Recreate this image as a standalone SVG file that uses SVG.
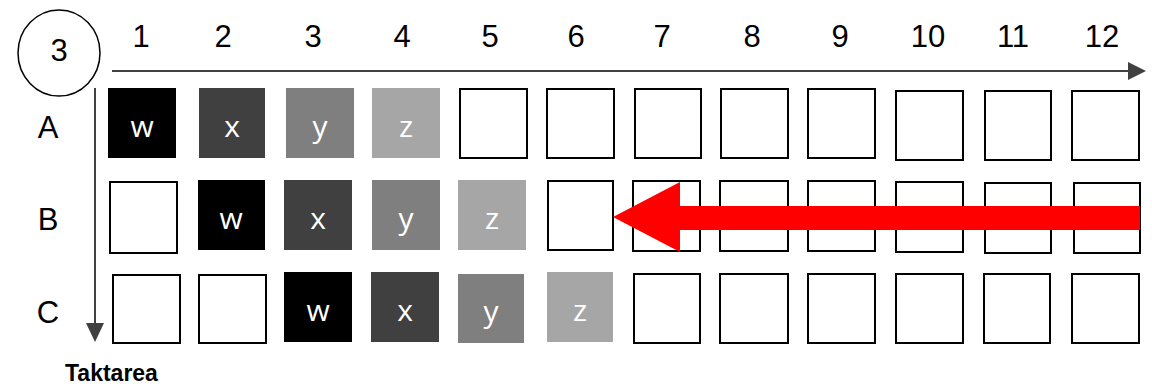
<svg xmlns="http://www.w3.org/2000/svg" width="1152" height="390" viewBox="0 0 1152 390">
<style>
.lbl{font-family:"Liberation Sans",Arial,sans-serif;font-size:31px;fill:#000;text-anchor:middle}
.cell{fill:#fff;stroke:#000;stroke-width:2}
.ct{font-family:"Open Sans","Liberation Sans",sans-serif;font-size:30px;fill:#fff;text-anchor:middle}
.w{fill:#000}.x{fill:#404040}.y{fill:#7f7f7f}.z{fill:#a6a6a6}
.axis{stroke:#404040;stroke-width:2;fill:none}
.head{fill:#404040}
.bold{font-family:"Liberation Sans",Arial,sans-serif;font-size:23px;font-weight:bold;fill:#000}
</style>

<g id="badge">
<ellipse cx="59" cy="53" rx="41" ry="43" fill="#fff" stroke="#000" stroke-width="1.5"/>
<text class="lbl" x="59" y="61">3</text>
</g>

<g id="columns">
<text class="lbl" x="141" y="47">1</text>
<text class="lbl" x="223" y="47">2</text>
<text class="lbl" x="313" y="47">3</text>
<text class="lbl" x="402" y="47">4</text>
<text class="lbl" x="490" y="47">5</text>
<text class="lbl" x="576" y="47">6</text>
<text class="lbl" x="662" y="47">7</text>
<text class="lbl" x="752" y="47">8</text>
<text class="lbl" x="840" y="47">9</text>
<text class="lbl" x="928" y="47">10</text>
<text class="lbl" x="1013" y="47">11</text>
<text class="lbl" x="1102" y="47">12</text>
</g>

<g id="rows">
<text class="lbl" x="48" y="138">A</text>
<text class="lbl" x="48" y="230">B</text>
<text class="lbl" x="48" y="323">C</text>
</g>

<g id="rowA">
<g id="A1"><rect class="w" x="108" y="88" width="68" height="70"/><text class="ct" x="142" y="137">w</text></g>
<g id="A2"><rect class="x" x="199" y="88" width="66" height="70"/><text class="ct" x="232" y="137">x</text></g>
<g id="A3"><rect class="y" x="286" y="88" width="68" height="70"/><text class="ct" x="320" y="137">y</text></g>
<g id="A4"><rect class="z" x="372" y="88" width="68" height="70"/><text class="ct" x="406" y="137">z</text></g>
<g id="A5"><rect class="cell" x="460" y="89" width="67" height="69"/></g>
<g id="A6"><rect class="cell" x="547" y="89" width="67" height="69"/></g>
<g id="A7"><rect class="cell" x="635" y="89" width="66" height="69"/></g>
<g id="A8"><rect class="cell" x="721" y="89" width="67" height="69"/></g>
<g id="A9"><rect class="cell" x="808" y="89" width="67" height="69"/></g>
<g id="A10"><rect class="cell" x="896" y="91" width="67" height="69"/></g>
<g id="A11"><rect class="cell" x="985" y="91" width="66" height="69"/></g>
<g id="A12"><rect class="cell" x="1072" y="91" width="67" height="69"/></g>
</g>

<g id="rowB">
<g id="B1"><rect class="cell" x="110" y="182" width="67" height="71"/></g>
<g id="B2"><rect class="w" x="198" y="180" width="67" height="70"/><text class="ct" x="231" y="229">w</text></g>
<g id="B3"><rect class="x" x="284" y="180" width="68" height="70"/><text class="ct" x="318" y="229">x</text></g>
<g id="B4"><rect class="y" x="372" y="180" width="68" height="70"/><text class="ct" x="406" y="229">y</text></g>
<g id="B5"><rect class="z" x="458" y="180" width="68" height="70"/><text class="ct" x="492" y="229">z</text></g>
<g id="B6"><rect class="cell" x="548" y="181" width="65" height="69"/></g>
<g id="B7"><rect class="cell" x="633" y="181" width="67" height="70"/></g>
<g id="B8"><rect class="cell" x="720" y="181" width="68" height="70"/></g>
<g id="B9"><rect class="cell" x="808" y="181" width="67" height="70"/></g>
<g id="B10"><rect class="cell" x="896" y="182" width="67" height="70"/></g>
<g id="B11"><rect class="cell" x="985" y="183" width="66" height="70"/></g>
<g id="B12"><rect class="cell" x="1074" y="183" width="66" height="70"/></g>
</g>

<g id="rowC">
<g id="C1"><rect class="cell" x="113" y="275" width="67" height="68"/></g>
<g id="C2"><rect class="cell" x="199" y="275" width="67" height="68"/></g>
<g id="C3"><rect class="w" x="284" y="272" width="68" height="70"/><text class="ct" x="318" y="321">w</text></g>
<g id="C4"><rect class="x" x="371" y="272" width="68" height="70"/><text class="ct" x="405" y="321">x</text></g>
<g id="C5"><rect class="y" x="458" y="274" width="66" height="69"/><text class="ct" x="491" y="322">y</text></g>
<g id="C6"><rect class="z" x="547" y="272" width="66" height="70"/><text class="ct" x="580" y="321">z</text></g>
<g id="C7"><rect class="cell" x="634" y="274" width="66" height="69"/></g>
<g id="C8"><rect class="cell" x="720" y="274" width="68" height="69"/></g>
<g id="C9"><rect class="cell" x="808" y="274" width="67" height="69"/></g>
<g id="C10"><rect class="cell" x="896" y="274" width="67" height="69"/></g>
<g id="C11"><rect class="cell" x="984" y="274" width="66" height="69"/></g>
<g id="C12"><rect class="cell" x="1072" y="274" width="67" height="69"/></g>
</g>

<g id="connectors">
<line class="axis" x1="112" y1="71" x2="1129" y2="71"/>
<polygon class="head" points="1128,62 1146,71 1128,80"/>
<line class="axis" x1="95" y1="88" x2="95" y2="324"/>
<polygon class="head" points="86,323 104,323 95,342"/>
<polygon points="613,217 680,182 680,206 1140,206 1140,230 680,230 680,252" fill="#ff0000"/>
</g>

<g id="caption">
<text class="bold" x="65" y="381">Taktarea</text>
</g>
</svg>
